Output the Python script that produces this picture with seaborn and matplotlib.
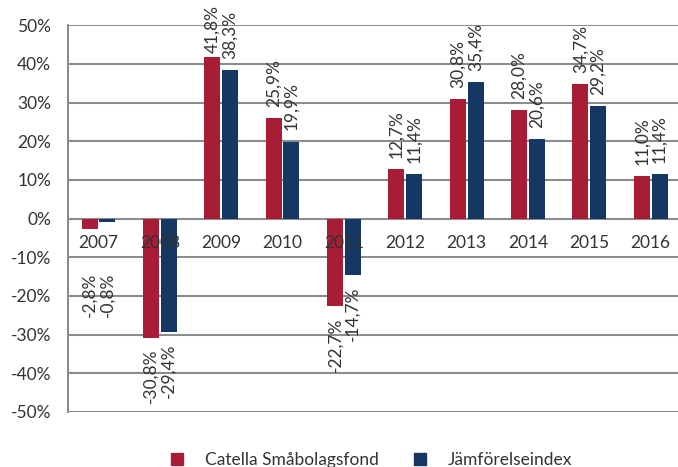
import pandas as pd
import numpy as np
import matplotlib
matplotlib.use('Agg')
import matplotlib.pyplot as plt
import seaborn as sns
from matplotlib.lines import Line2D

years = ['2007', '2008', '2009', '2010', '2011', '2012', '2013', '2014', '2015', '2016']
fund = [-2.8, -30.8, 41.8, 25.9, -22.7, 12.7, 30.8, 28.0, 34.7, 11.0]
index = [-0.8, -29.4, 38.3, 19.9, -14.7, 11.4, 35.4, 20.6, 29.2, 11.4]
series = ['Catella Småbolagsfond', 'Jämförelseindex']
colors = ['#A81C36', '#143764']

df = pd.DataFrame({
    'year': years * 2,
    'value': fund + index,
    'series': [series[0]] * len(years) + [series[1]] * len(years),
})

sns.set_style('white')
plt.rcParams['font.family'] = ['Lato', 'DejaVu Sans']
text_color = '#333333'
grid_color = '#8c8c8c'
fs = 12.5

fig = plt.figure(figsize=(6.78, 4.67), dpi=100)
ax = fig.add_axes([0.100, 0.118, 0.905, 0.828])

sns.barplot(data=df, x='year', y='value', hue='series', order=years,
            hue_order=series, palette=colors, width=0.58, gap=0.1,
            saturation=1, legend=False, linewidth=0, ax=ax)

ax.set_ylim(-50, 50)
ax.set_yticks(np.arange(-50, 51, 10))
ax.set_yticklabels([f'{v}%' for v in range(-50, 51, 10)], fontsize=fs,
                   color=text_color)
ax.set_xticks([])
ax.set_xlabel('')
ax.set_ylabel('')
ax.set_xlim(-0.5, len(years) - 0.5)
ax.yaxis.grid(True, color=grid_color, linewidth=1.5)
ax.set_axisbelow(True)
ax.tick_params(axis='y', length=0, pad=12)

for side in ['top', 'right', 'bottom']:
    ax.spines[side].set_visible(False)
ax.spines['left'].set_color(grid_color)
ax.spines['left'].set_linewidth(1.5)

# year labels sitting just under the zero line
for i, y in enumerate(years):
    ax.text(i, -6.2, y, ha='center', va='center', fontsize=fs, color=text_color)

# rotated value labels; the tiny 2007 bars get theirs pushed below the year label
for k, (cont, vals) in enumerate(zip(ax.containers, [fund, index])):
    labels = [f'{v:.1f}%'.replace('.', ',') for v in vals]
    texts = ax.bar_label(cont, labels=labels, rotation=90, padding=8,
                         fontsize=fs, color=text_color)
    if k == 0:
        texts[2].xyann = (0, 3)  # 41,8% would run off the top
    bar = cont.patches[0]
    texts[0].set_visible(False)
    ax.text(bar.get_x() + bar.get_width() / 2, -14, labels[0], rotation=90,
            ha='center', va='top', fontsize=fs, color=text_color)

handles = [Line2D([0], [0], marker='s', linestyle='none', markersize=8,
                  markerfacecolor=c, markeredgecolor=c) for c in colors]
fig.legend(handles, series, loc='lower center', bbox_to_anchor=(0.54, -0.035),
           ncol=2, frameon=False, fontsize=fs, handletextpad=0.6,
           columnspacing=1.4, labelcolor=text_color)

fig.savefig('out.png', dpi=100)
plt.close()
